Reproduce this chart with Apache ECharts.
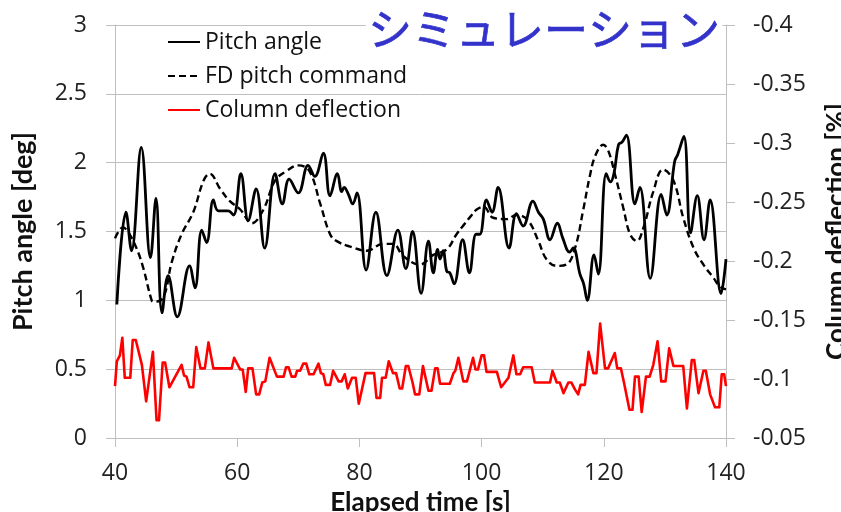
<!DOCTYPE html>
<html>
<head>
<meta charset="utf-8">
<script src="https://cdn.jsdelivr.net/npm/echarts@6/dist/echarts.min.js"></script>
<style>
  html, body { margin: 0; padding: 0; background: #fff; }
  #chart { width: 841px; height: 512px; }
</style>
</head>
<body>
<div id="chart"></div>
<script>
// Elapsed time [s] and pitch angle [deg]
const pitchTime = [40.3, 41.8, 42.7, 44.3, 45.8, 46.7, 47.7, 48.7, 50.2, 52.2, 53.1, 54.2, 55.0, 56.1, 56.9, 58.5,
  59.4, 60.6, 61.8, 63.1, 64.5, 66.2, 67.4, 68.5, 70.0, 71.6, 72.7, 74.1, 75.2, 76.4, 77.1, 77.5, 78.2, 78.9,
  79.6, 81.1, 82.7, 84.5, 86.3, 87.6, 88.7, 90.1, 91.3, 92.1, 92.8, 93.2, 93.7, 94.3, 94.8, 95.5, 96.9, 98.0,
  99.1, 99.7, 100.8, 101.7, 102.7, 104.5, 105.7, 106.8, 108.4, 109.3, 110.1, 111.2, 112.4, 113.3, 114.4, 115.0,
  116.1, 116.7, 117.3, 118.4, 119.1, 120.4, 121.1, 121.7, 122.4, 123.0, 123.7, 125.1, 125.9, 127.6, 129.4, 130.3,
  131.6, 132.1, 133.1, 134.2, 135.3, 136.4, 137.4, 139.2, 140.0];
const pitchAngle = [0.97, 1.64, 1.36, 2.11, 1.31, 1.74, 0.91, 1.18, 0.88, 1.25, 1.09, 1.51, 1.42, 1.73, 1.65, 1.65,
  1.62, 1.92, 1.58, 1.81, 1.38, 1.92, 1.70, 1.88, 1.78, 1.98, 1.90, 2.07, 1.76, 1.92, 1.79, 1.82, 1.77, 1.70,
  1.78, 1.22, 1.64, 1.18, 1.51, 1.23, 1.50, 1.05, 1.43, 1.20, 1.37, 1.30, 1.36, 1.21, 1.20, 1.12, 1.44, 1.20,
  1.48, 1.48, 1.73, 1.64, 1.82, 1.38, 1.63, 1.54, 1.72, 1.64, 1.59, 1.44, 1.56, 1.45, 1.35, 1.38,
  1.19, 1.12, 1.00, 1.33, 1.19, 1.92, 1.86, 1.93, 2.13, 2.15, 2.20, 1.70, 1.82, 1.16, 1.77, 1.62,
  2.01, 2.06, 2.19, 1.49, 1.76, 1.44, 1.73, 1.05, 1.30];

// Flight director pitch command [deg]
const fdTime = [40.0, 41.3, 42.1, 43.5, 44.6, 46.0, 46.4, 47.9, 49.3, 50.9, 52.8, 54.5, 55.5, 57.2, 58.8, 60.5,
  62.4, 64.3, 66.2, 68.1, 70.0, 71.8, 73.6, 75.2, 76.3, 78.5, 81.2, 83.9, 85.5, 87.2, 89.9, 92.1, 94.3, 95.9,
  97.3, 98.2, 99.2, 100.3, 101.9, 104.1, 105.7, 107.6, 109.3, 110.6, 112.3, 113.9, 115.3, 116.6, 117.7, 118.6,
  119.9, 120.7, 121.8, 123.2, 124.3, 125.4, 126.5, 128.1, 129.7, 131.4, 133.0, 134.7, 136.3, 138.0, 139.0, 140.0];
const fdCommand = [1.45, 1.53, 1.50, 1.38, 1.24, 1.00, 0.99, 1.02, 1.28, 1.48, 1.64, 1.87, 1.92, 1.81, 1.72, 1.66,
  1.56, 1.66, 1.87, 1.94, 1.98, 1.94, 1.70, 1.48, 1.43, 1.39, 1.36, 1.41, 1.41, 1.32, 1.26, 1.33, 1.37, 1.48,
  1.56, 1.61, 1.66, 1.68, 1.60, 1.59, 1.62, 1.58, 1.43, 1.30, 1.25, 1.26, 1.38, 1.65, 1.90, 2.05,
  2.13, 2.09, 1.92, 1.67, 1.48, 1.43, 1.53, 1.79, 1.95, 1.87, 1.60, 1.38, 1.26, 1.16, 1.10, 1.08];

// Column deflection [%]
const colTime = [40.0, 40.3, 40.8, 41.2, 41.6, 42.5, 42.9, 43.4, 44.4, 45.1, 45.3, 46.2, 46.8, 47.2, 47.8, 48.2,
  48.9, 50.9, 51.3, 51.7, 52.2, 52.8, 53.3, 53.6, 54.0, 54.7, 55.3, 55.6, 56.1, 59.1, 59.5, 59.8, 60.5, 60.9,
  61.4, 61.8, 62.5, 63.1, 63.6, 64.1, 64.6, 65.3, 66.5, 67.6, 68.0, 68.4, 68.9, 69.5, 69.8, 70.3, 70.8, 71.3,
  71.8, 72.5, 73.3, 73.7, 74.1, 74.5, 75.2, 75.7, 76.0, 76.6, 77.1, 77.6, 78.1, 78.4, 78.8, 79.4, 79.9, 80.2,
  81.0, 82.4, 82.8, 83.4, 83.7, 84.3, 84.8, 85.1, 85.5, 86.0, 86.6, 87.0, 87.6, 88.0, 88.7, 89.1, 89.8, 90.4,
  90.7, 91.3, 91.8, 92.4, 92.8, 93.2, 94.8, 95.4, 95.7, 96.2, 97.0, 97.6, 98.1, 98.6, 99.0, 99.4, 100.0, 100.4,
  100.8, 102.5, 103.2, 103.5, 104.4, 105.2, 105.7, 106.3, 106.8, 108.2, 108.7, 111.2, 111.6, 111.8, 112.3, 112.8,
  113.4, 113.7, 114.2, 114.7, 115.3, 115.8, 116.2, 116.9, 117.5, 117.8, 118.3, 118.8, 119.4, 119.6, 120.2, 120.7,
  121.8, 122.2, 122.8, 123.3, 123.6, 124.2, 124.7, 125.1, 125.7, 126.2, 126.5, 126.9, 127.5, 128.1, 128.8, 129.4,
  130.1, 130.7, 131.4, 133.0, 133.6, 133.9, 134.4, 134.8, 135.5, 135.8, 136.3, 136.7, 137.4, 138.2, 138.9, 139.3,
  139.7, 140.0];
const colDeflection = [-0.094, -0.115, -0.120, -0.135, -0.101, -0.101, -0.133, -0.133, -0.112, -0.081, -0.081, -0.123, -0.065, -0.065, -0.114, -0.114,
  -0.093, -0.112, -0.103, -0.102, -0.093, -0.093, -0.127, -0.127, -0.109, -0.109, -0.131, -0.131, -0.109, -0.109, -0.118, -0.117, -0.108, -0.108,
  -0.089, -0.109, -0.109, -0.087, -0.087, -0.097, -0.098, -0.118, -0.102, -0.102, -0.110, -0.110, -0.102, -0.102, -0.107, -0.107, -0.113, -0.113,
  -0.104, -0.104, -0.113, -0.105, -0.104, -0.095, -0.095, -0.107, -0.107, -0.098, -0.098, -0.104, -0.092, -0.092, -0.101, -0.101, -0.079, -0.079,
  -0.105, -0.105, -0.084, -0.084, -0.101, -0.101, -0.115, -0.115, -0.105, -0.105, -0.092, -0.092, -0.111, -0.111, -0.097, -0.087, -0.087, -0.111,
  -0.111, -0.090, -0.090, -0.109, -0.109, -0.096, -0.096, -0.105, -0.107, -0.118, -0.098, -0.098, -0.108, -0.118, -0.108, -0.108, -0.120, -0.120,
  -0.106, -0.106, -0.093, -0.093, -0.101, -0.120, -0.104, -0.104, -0.110, -0.110, -0.097, -0.097, -0.107, -0.107, -0.097, -0.097,
  -0.088, -0.088, -0.097, -0.097, -0.091, -0.087, -0.095, -0.095, -0.123, -0.123, -0.105, -0.105, -0.147, -0.146, -0.109, -0.109,
  -0.122, -0.109, -0.109, -0.097, -0.097, -0.074, -0.074, -0.102, -0.102, -0.072, -0.072, -0.102, -0.102, -0.112, -0.132, -0.098,
  -0.098, -0.126, -0.111, -0.111, -0.075, -0.075, -0.116, -0.116, -0.088, -0.088, -0.107, -0.107, -0.087, -0.076, -0.076, -0.104,
  -0.104, -0.094];

const pairs = (xs, ys) => xs.map((x, i) => [x, ys[i]]);

const LABEL_FONT = 'Open Sans';
const TITLE_FONT = 'Lato';
const AXIS_GRAY = '#bfbfbf';
const TITLE_BLUE = '#3333cc';

const chart = echarts.init(document.getElementById('chart'), null, { renderer: 'canvas' });

chart.setOption({
  animation: false,
  backgroundColor: '#fff',
  title: {
    text: 'シミュレーション',
    left: 366,
    top: 5,
    padding: [0, 2],
    backgroundColor: '#fff',
    textStyle: {
      fontFamily: 'Noto Sans CJK JP',
      fontSize: 44,
      fontWeight: 'normal',
      color: TITLE_BLUE,
      textBorderColor: TITLE_BLUE,
      textBorderWidth: 0.7,
      lineHeight: 48
    }
  },
  legend: {
    orient: 'vertical',
    left: 167,
    top: 30,
    itemWidth: 32,
    itemHeight: 14,
    itemGap: 10,
    padding: 0,
    itemStyle: { opacity: 0 },
    textStyle: { fontFamily: LABEL_FONT, fontSize: 23, color: '#111', lineHeight: 24 },
    data: ['Pitch angle', 'FD pitch command', 'Column deflection']
  },
  grid: { left: 115, right: 115, top: 25, bottom: 74, containLabel: false, outerBoundsMode: 'none' },
  xAxis: {
    type: 'value',
    min: 40,
    max: 140,
    interval: 20,
    name: 'Elapsed time [s]',
    nameLocation: 'middle',
    nameGap: 49,
    nameTextStyle: { fontFamily: TITLE_FONT, fontWeight: 'bold', fontSize: 26, color: '#111' },
    axisLine: { show: true, lineStyle: { color: AXIS_GRAY, width: 1 } },
    axisTick: { show: true, length: 9, lineStyle: { color: AXIS_GRAY } },
    axisLabel: { fontFamily: LABEL_FONT, fontSize: 23, color: '#222', margin: 24 },
    splitLine: { show: false }
  },
  yAxis: [
    {
      type: 'value',
      position: 'left',
      min: 0,
      max: 3,
      interval: 0.5,
      name: 'Pitch angle [deg]',
      nameLocation: 'middle',
      nameRotate: 90,
      nameGap: 78,
      nameTextStyle: { fontFamily: TITLE_FONT, fontWeight: 'bold', fontSize: 27, color: '#111' },
      axisLine: { show: true, lineStyle: { color: AXIS_GRAY, width: 1 } },
      axisTick: { show: true, length: 9, lineStyle: { color: AXIS_GRAY } },
      axisLabel: { fontFamily: LABEL_FONT, fontSize: 23, color: '#222', margin: 28 },
      splitLine: { show: true, lineStyle: { color: AXIS_GRAY, width: 1 } }
    },
    {
      type: 'value',
      position: 'right',
      inverse: true,
      min: -0.4,
      max: -0.05,
      interval: 0.05,
      name: 'Column deflection [%]',
      nameLocation: 'middle',
      nameRotate: 90,
      nameGap: 98,
      nameTextStyle: { fontFamily: TITLE_FONT, fontWeight: 'bold', fontSize: 26, color: '#111' },
      axisLine: { show: true, lineStyle: { color: AXIS_GRAY, width: 1 } },
      axisTick: { show: true, length: 9, lineStyle: { color: AXIS_GRAY } },
      axisLabel: {
        fontFamily: LABEL_FONT, fontSize: 23, color: '#222', margin: 27,
        formatter: v => String(Math.round(v * 100) / 100)
      },
      splitLine: { show: false }
    }
  ],
  series: [
    {
      name: 'Pitch angle',
      type: 'line',
      yAxisIndex: 0,
      data: pairs(pitchTime, pitchAngle),
      smooth: 0.4,
      symbol: 'none',
      color: '#000',
      lineStyle: { color: '#000', width: 2.8 },
      z: 4
    },
    {
      name: 'FD pitch command',
      type: 'line',
      yAxisIndex: 0,
      data: pairs(fdTime, fdCommand),
      smooth: 0.4,
      symbol: 'none',
      color: '#000',
      lineStyle: { color: '#000', width: 2.4, type: [7, 4] },
      z: 3
    },
    {
      name: 'Column deflection',
      type: 'line',
      yAxisIndex: 1,
      data: pairs(colTime, colDeflection),
      smooth: false,
      symbol: 'none',
      color: '#ff0000',
      lineStyle: { color: '#ff0000', width: 2.6, join: 'round' },
      z: 3
    }
  ]
});
</script>
</body>
</html>
